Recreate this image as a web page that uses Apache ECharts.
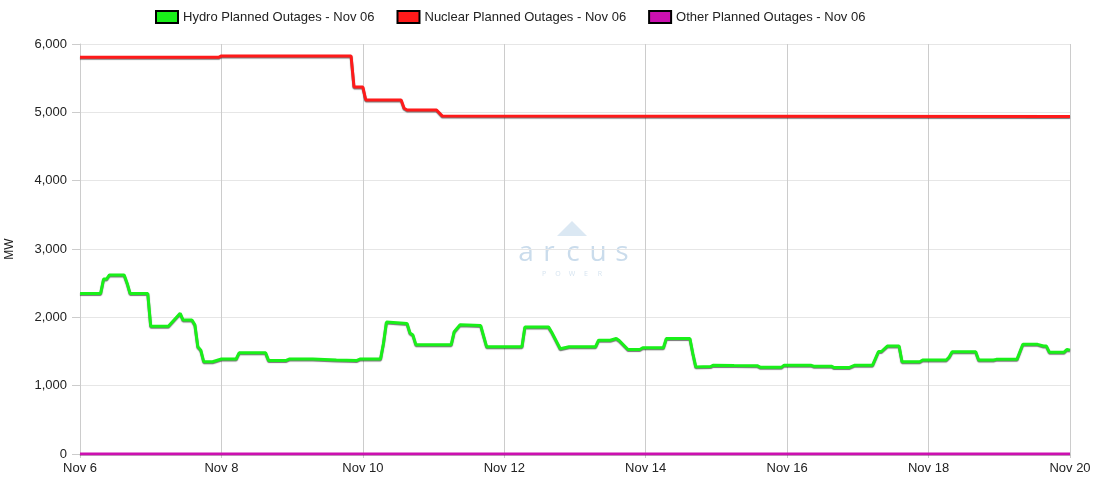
<!DOCTYPE html>
<html>
<head>
<meta charset="utf-8">
<script src="https://cdn.jsdelivr.net/npm/echarts@6/dist/echarts.min.js"></script>
<style>
html,body{margin:0;padding:0;background:#fff;}
#chart{width:1100px;height:500px;}
</style>
</head>
<body>
<div id="chart"></div>
<script>
// Hours offset from Nov 6 00:00
var seriesNames = ['Hydro Planned Outages - Nov 06', 'Nuclear Planned Outages - Nov 06', 'Other Planned Outages - Nov 06'];
var xTickHours = [0, 48, 96, 144, 192, 240, 288, 336];
var xTickLabels = ['Nov 6', 'Nov 8', 'Nov 10', 'Nov 12', 'Nov 14', 'Nov 16', 'Nov 18', 'Nov 20'];

var hydroHours = [0,7,8,9,10,15,16,17,23,24,30,34,35,38,39,40,41,42,45,48,53,54,63,64,70,71,79,87,94,95,102,103,104,111,112,113,114,126,127,129,136,138,150,151,159,160,163,166,175,176,180,182,183,186,190,191,198,199,207,208,209,214,215,222,230,231,238,239,248,249,255,256,261,263,269,271,272,274,278,279,285,286,294,295,296,304,305,310,311,318,320,325,327,328,329,334,335,336];
var hydroMW    = [2350,2350,2560,2560,2620,2620,2500,2350,2350,1870,1870,2060,1960,1960,1890,1570,1520,1350,1350,1390,1390,1480,1480,1370,1370,1390,1390,1375,1370,1390,1390,1620,1930,1910,1770,1740,1600,1600,1790,1890,1880,1570,1570,1860,1860,1790,1540,1570,1570,1665,1665,1690,1660,1530,1530,1555,1555,1690,1690,1470,1275,1280,1300,1295,1290,1268,1268,1300,1300,1285,1285,1265,1265,1300,1300,1500,1500,1580,1580,1350,1350,1375,1375,1420,1495,1495,1375,1375,1385,1385,1605,1605,1580,1580,1490,1490,1530,1520];

var nuclearHours = [0,47,48,92,93,96,97,109,110,111,121,123,336];
var nuclearMW    = [5805,5805,5825,5825,5370,5370,5180,5180,5060,5035,5035,4945,4940];

var otherHours = [0,336];
var otherMW    = [0,0];

function pairs(h, v){ return h.map(function(x,i){ return [x, v[i]]; }); }

var FONT = 'Liberation Sans, Arial, sans-serif';
var WM = '#cadcec';
var chart = echarts.init(document.getElementById('chart'), null, {renderer:'canvas'});
function lineSeries(name, h, v, color){
  return {
    name: name, type: 'line', data: pairs(h, v), showSymbol: false, symbol: 'none',
    lineStyle: {color: color, width: 3, shadowColor: 'rgba(0,0,0,0.55)', shadowBlur: 1, shadowOffsetY: 1},
    itemStyle: {color: color, borderColor: '#000', borderWidth: 1},
    animation: false, z: 3
  };
}
function wmLetter(ch, x, y, font, fill){
  return {type: 'text', x: x, y: y, style: {text: ch, font: font, fill: fill || WM, align: 'center', verticalAlign: 'middle'}, z: 0, silent: true};
}
var bigFont = 'normal 28px "Open Sans", Lato, sans-serif';
var smallFont = '7px "Open Sans", sans-serif';
chart.setOption({
  animation: false,
  textStyle: {fontFamily: FONT},
  legend: {
    left: 150, top: 5, itemWidth: 22, itemHeight: 12, itemGap: 22,
    icon: 'rect',
    textStyle: {fontSize: 13, color: '#222', fontFamily: FONT},
    data: seriesNames
  },
  graphic: [
    {type: 'polygon', shape: {points: [[557,236],[572,221],[587,236]]}, style: {fill: '#dbe8f3'}, z: 0, silent: true},
    wmLetter('a', 526, 253, bigFont),
    wmLetter('r', 549, 253, bigFont),
    wmLetter('c', 573, 253, bigFont),
    wmLetter('u', 598, 253, bigFont),
    wmLetter('s', 622, 253, bigFont),
    wmLetter('P', 544, 274, smallFont, '#d6e4f0'),
    wmLetter('O', 558, 274, smallFont, '#d6e4f0'),
    wmLetter('W', 572, 274, smallFont, '#d6e4f0'),
    wmLetter('E', 586, 274, smallFont, '#d6e4f0'),
    wmLetter('R', 600, 274, smallFont, '#d6e4f0')
  ],
  grid: {left: 80, right: 30, top: 44, bottom: 46, containLabel: false, outerBoundsMode: 'none'},
  xAxis: {
    type: 'value', min: 0, max: 336, interval: 48,
    axisLine: {show: false},
    axisTick: {show: true, length: 4, lineStyle: {color: '#ccc'}},
    splitLine: {show: true, lineStyle: {color: '#cccccc', width: 1}},
    axisLabel: {
      fontSize: 13, color: '#222', margin: 8, fontFamily: FONT,
      formatter: function(v){ var i = xTickHours.indexOf(v); return i >= 0 ? xTickLabels[i] : ''; }
    }
  },
  yAxis: {
    type: 'value', min: 0, max: 6000, interval: 1000,
    name: 'MW', nameLocation: 'middle', nameGap: 64, nameRotate: 90,
    nameTextStyle: {fontSize: 12, color: '#222', fontFamily: FONT},
    axisLine: {show: true, lineStyle: {color: '#cccccc'}},
    axisTick: {show: true, length: 8, lineStyle: {color: '#cccccc'}},
    splitLine: {show: true, lineStyle: {color: '#e6e6e6'}},
    axisLabel: {
      fontSize: 13, color: '#222', margin: 13, fontFamily: FONT,
      formatter: function(v){ return v.toLocaleString('en-US'); }
    }
  },
  series: [
    lineSeries(seriesNames[0], hydroHours, hydroMW, '#19f019'),
    lineSeries(seriesNames[1], nuclearHours, nuclearMW, '#ff1a1a'),
    lineSeries(seriesNames[2], otherHours, otherMW, '#cc10b0')
  ]
});
</script>
</body>
</html>
